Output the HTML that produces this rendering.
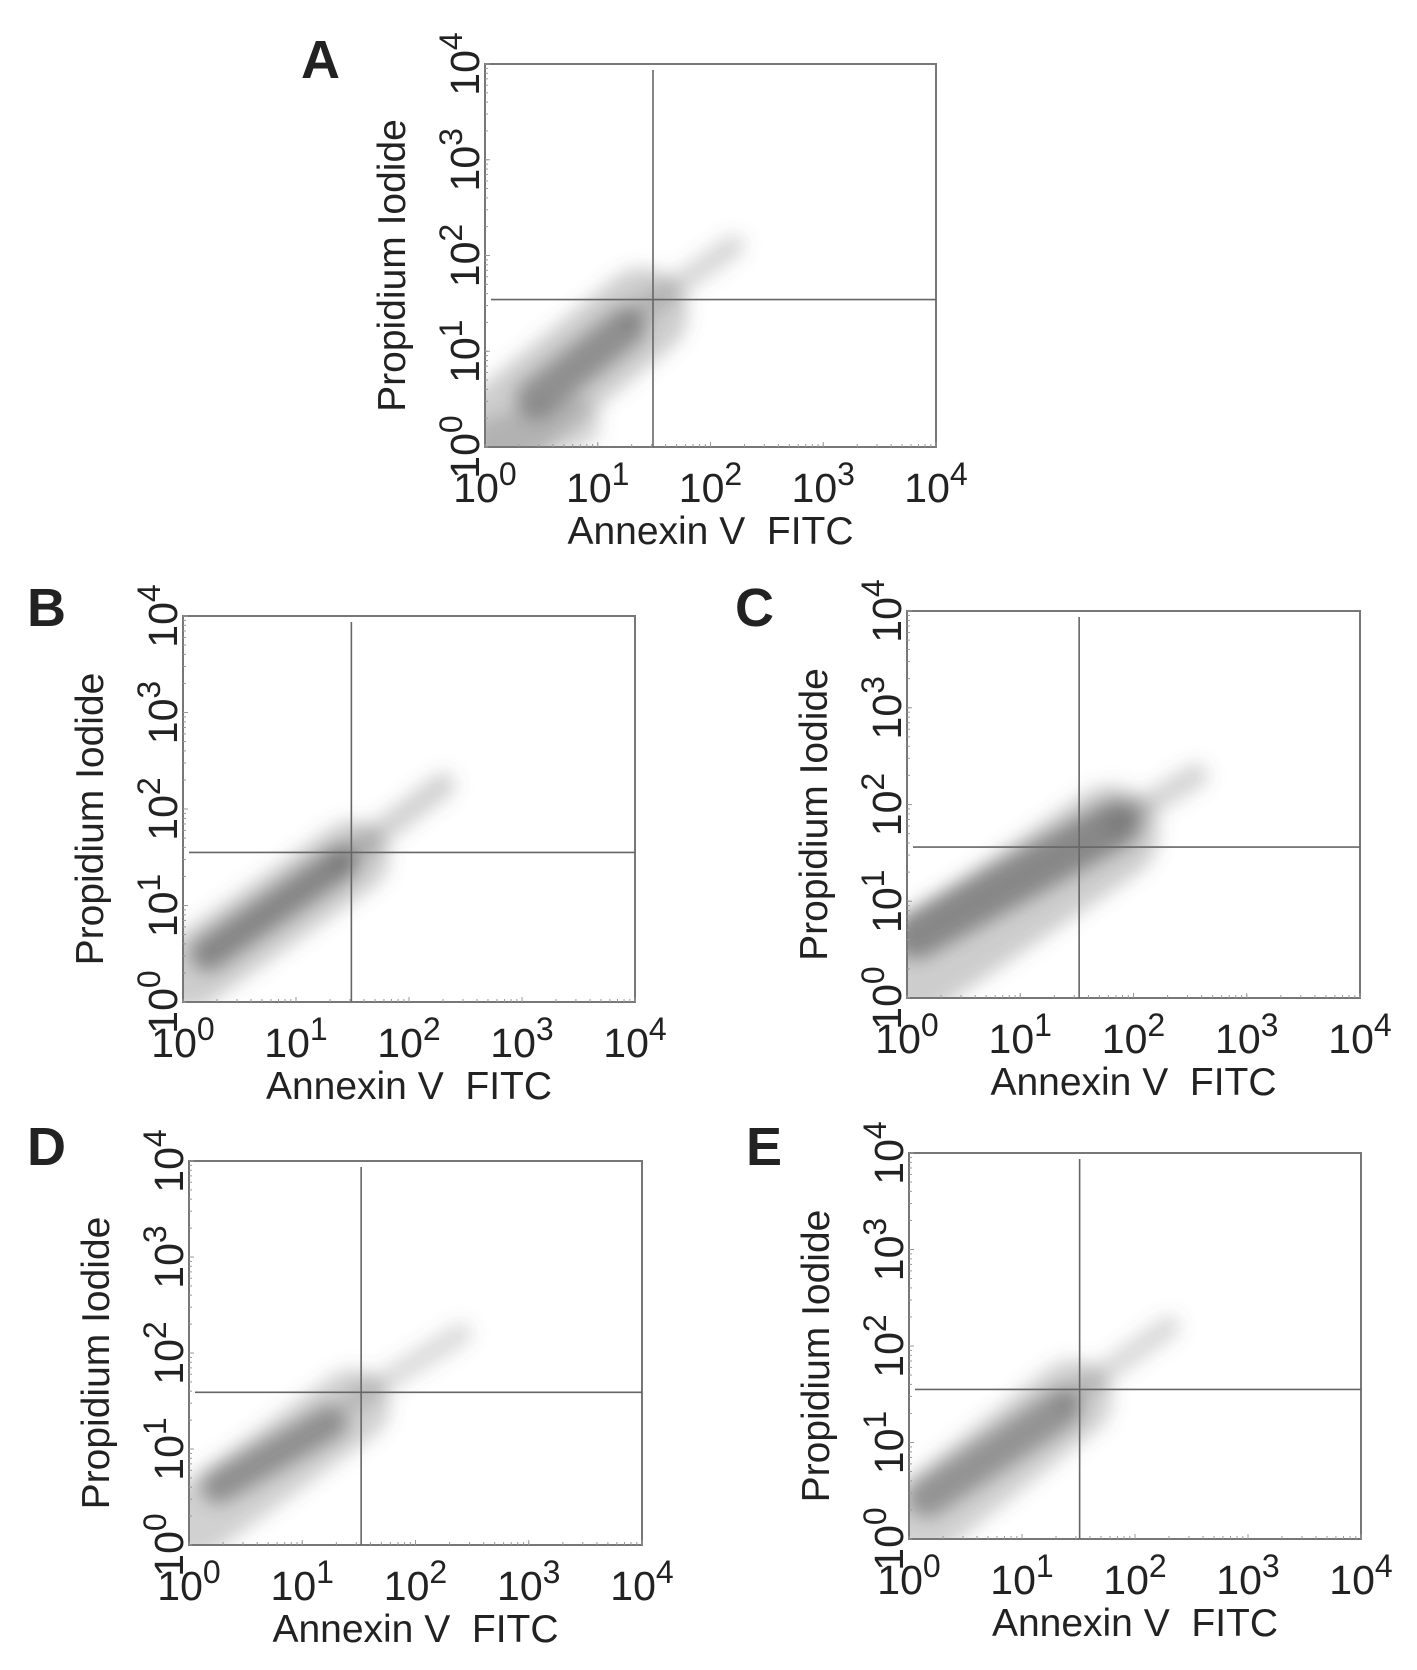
<!DOCTYPE html>
<html><head><meta charset="utf-8"><style>
html,body{margin:0;padding:0;background:#fff}
svg{display:block}
text{font-family:"Liberation Sans",sans-serif;fill:#222}
</style></head><body>
<svg id="fig" width="1417" height="1670" viewBox="0 0 1417 1670" xmlns="http://www.w3.org/2000/svg">
<defs><filter id="blur" x="-50%" y="-50%" width="200%" height="200%"><feGaussianBlur stdDeviation="9"/></filter></defs>
</svg>
<script>
// panel identifiers and frames
const panelNames = ["A","B","C","D","E"];
const decadeTicks = [0,1,2,3,4];
const tickExps = ["0","1","2","3","4"];
// quadrant gate positions (log10 decades)
const gateX = [1.49,1.49,1.52,1.52,1.51];
const gateY = [1.54,1.55,1.56,1.59,1.55];
// population streaks per panel: [x1,y1,x2,y2,width(decades),opacity] in log10 units
const popA = [[0.1,0.15,1.4,1.4,0.8,0.3],[0.1,0.05,0.8,0.25,0.45,0.25],[0.45,0.5,1.25,1.25,0.35,0.55],[1.3,1.35,2.2,2.1,0.2,0.25]];
const popB = [[0.05,0.3,1.5,1.5,0.65,0.3],[0.22,0.5,1.39,1.44,0.3,0.62],[1.4,1.45,2.3,2.25,0.22,0.28]];
const popC = [[0.05,0.3,1.8,1.7,0.85,0.3],[0.08,0.65,1.85,1.8,0.42,0.6],[1.85,1.8,2.55,2.3,0.22,0.26]];
const popD = [[0.05,0.25,1.45,1.45,0.65,0.28],[0.26,0.61,1.25,1.28,0.3,0.55],[1.45,1.5,2.4,2.2,0.2,0.22]];
const popE = [[0.05,0.15,1.45,1.45,0.7,0.28],[0.16,0.43,1.35,1.35,0.35,0.52],[1.4,1.45,2.3,2.2,0.2,0.24]];
const pops = [popA,popB,popC,popD,popE];

// layout (pixels, not data)
const frames = [[485,64,936,447],[183,616,635,1002],[907,611,1360,998],[189,1161,642,1545],[909,1153,1361,1539]];
const letterPos = [[301,78],[27,626],[735,626],[27,1165],[746,1165]];

const NS="http://www.w3.org/2000/svg";
const svg=document.getElementById('fig');
function mk(tag,attrs,parent){const e=document.createElementNS(NS,tag);for(const k in attrs)e.setAttribute(k,attrs[k]);(parent||svg).appendChild(e);return e;}

panelNames.forEach((p,i)=>{
  const [x0,y0,x1,y1]=frames[i];
  const sx=v=>x0+(x1-x0)*v/4;
  const sy=v=>y1-(y1-y0)*v/4;
  const g=mk('g',{});
  
  
  const clip=mk('clipPath',{id:'clip'+i},g);
  mk('rect',{x:x0,y:y0,width:x1-x0,height:y1-y0},clip);
  const pg=mk('g',{'clip-path':'url(#clip'+i+')'},g);
  const cloud=mk('g',{filter:'url(#blur)'},pg);
  
  
  const ppd=(x1-x0)/4;
  pops[i].forEach(s=>{
    const l=mk('line',{x1:sx(s[0]),y1:sy(s[1]),x2:sx(s[2]),y2:sy(s[3]),stroke:'#5a5a5a','stroke-width':s[4]*ppd,'stroke-linecap':'round','stroke-opacity':s[5]},cloud);
    
    
  });
  const box=mk('rect',{x:x0,y:y0,width:x1-x0,height:y1-y0,fill:'none',stroke:'#777','stroke-width':2},g);
  
  
  const gv=mk('line',{x1:sx(gateX[i]),y1:y0+6,x2:sx(gateX[i]),y2:y1,stroke:'#666','stroke-width':1.6},g);
  
  
  const gh=mk('line',{x1:x0+6,y1:sy(gateY[i]),x2:x1,y2:sy(gateY[i]),stroke:'#666','stroke-width':1.6},g);
  
  
  // minor ticks
  for(let d=0;d<4;d++)for(let m=1;m<=10;m++){
    const v=d+Math.log10(m);
    mk('line',{x1:sx(v),y1:y1,x2:sx(v),y2:y1-(m===10?5:3),stroke:'#999','stroke-width':1},g);
    mk('line',{x1:x0,y1:sy(v),x2:x0+(m===10?5:3),y2:sy(v),stroke:'#999','stroke-width':1},g);
  }
  decadeTicks.forEach((d,k)=>{
    const t=mk('text',{x:sx(d),y:y1+55,'font-size':41,'text-anchor':'middle'},g);
    
    
    t.innerHTML='10<tspan dy="-17" font-size="32">'+tickExps[k]+'</tspan>';
    const ty=mk('text',{x:0,y:0,'font-size':41,'text-anchor':'middle',transform:'translate('+(x0-6)+','+sy(d)+') rotate(-90)'},g);
    
    
    ty.innerHTML='10<tspan dy="-17" font-size="32">'+tickExps[k]+'</tspan>';
  });
  const xt=mk('text',{x:(x0+x1)/2,y:y1+97,'font-size':39,'text-anchor':'middle'},g);
  
  
  xt.textContent='Annexin V\u00a0\u00a0FITC';
  const yt=mk('text',{x:0,y:0,'font-size':39,'text-anchor':'middle',transform:'translate('+(x0-80)+','+((y0+y1)/2+10)+') rotate(-90)'},g);
  
  
  yt.textContent='Propidium Iodide';
  const lt=mk('text',{x:letterPos[i][0],y:letterPos[i][1],'font-size':54,'font-weight':'bold'},g);
  
  
  lt.textContent=p;
});
</script>
</body></html>
